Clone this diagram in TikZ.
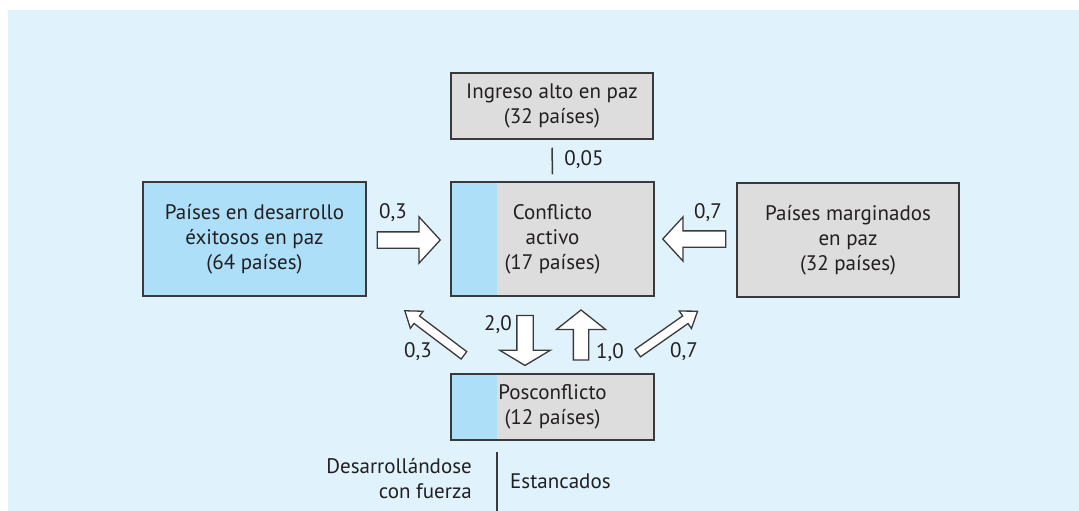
\documentclass[tikz,border=0pt]{standalone}
\usepackage{fontspec}
\setmainfont{PT Sans}
\usetikzlibrary{calc,shapes.arrows}

\definecolor{bgblue}{HTML}{E0F2FC}
\definecolor{boxblue}{HTML}{ADDFF8}
\definecolor{boxgray}{HTML}{DDDDDD}
\definecolor{edgegray}{HTML}{3A3A3A}
\definecolor{txt}{HTML}{231F20}

\tikzset{
  box/.style={draw=edgegray, line width=1.5pt, fill=boxgray, align=center,
    inner sep=0pt, text=txt, font=\fontsize{21}{25}\selectfont},
  bluebox/.style={box, fill=boxblue},
  halfbox/.style={box, path picture={
    \fill[boxblue] (path picture bounding box.north west)
      rectangle ([xshift=46pt]path picture bounding box.south west);}},
  barrow/.style={single arrow, draw=edgegray, fill=white, line width=1.3pt,
    inner sep=0pt, text depth=0pt, single arrow head indent=0pt},
  lbl/.style={text=txt, font=\fontsize{21}{25}\selectfont, inner sep=0pt}
}

\begin{document}
\begin{tikzpicture}[x=1pt,y=-1pt]
  \useasboundingbox (0,0) rectangle (1079,511);
  \fill[bgblue] (8,10) rectangle (1079,511);

  % boxes
  \node[box, minimum width=202pt, minimum height=66pt] (alto) at (552,106)
    {Ingreso alto en paz\\(32 países)};
  \node[halfbox, minimum width=203pt, minimum height=114pt] (conf) at (552.5,239)
    {Conflicto\\activo\\(17 países)};
  \node[bluebox, minimum width=223pt, minimum height=114pt] (exito) at (254.5,239)
    {Países en desarrollo\\éxitosos en paz\\(64 países)};
  \node[box, minimum width=222pt, minimum height=114pt] (margin) at (848,240)
    {Países marginados\\en paz\\(32 países)};
  \node[halfbox, minimum width=203pt, minimum height=66pt] (pos) at (552.5,407)
    {Posconflicto\\(12 países)};

  % flows
  \draw[edgegray, line width=1.5pt] ([yshift=-8pt]alto.south) -- ([yshift=7pt]conf.north);
  \node[lbl] (l005) at (584,160) {0,05};

  \node[barrow, minimum height=63pt, text height=15pt,
    single arrow head extend=15pt, single arrow tip angle=95] (a-ex)
    at (405,240) {};
  \node[lbl] (l-ex) at (393,213) {0,3};

  \node[barrow, minimum height=63pt, text height=15pt, rotate=180,
    single arrow head extend=14pt, single arrow tip angle=95] (a-ma)
    at (698,239) {};
  \node[lbl] (l-ma) at (708,213) {0,7};

  \node[barrow, minimum height=50pt, text height=15pt, rotate=-90,
    single arrow head extend=17pt, single arrow tip angle=118] (a-dn)
    at (525,338) {};
  \node[lbl] (l-dn) at (498,325) {2,0};

  \node[barrow, minimum height=50pt, text height=14pt, rotate=90,
    single arrow head extend=17pt, single arrow tip angle=103] (a-up)
    at (581,338) {};
  \node[lbl] (l-up) at (610,353) {1,0};

  \node[barrow, minimum height=74pt, text height=8pt, rotate=143,
    single arrow head extend=6pt, single arrow tip angle=71] (a-nw)
    at (437,335) {};
  \node[lbl] (l-nw) at (418,352) {0,3};

  \node[barrow, minimum height=73pt, text height=8pt, rotate=35,
    single arrow head extend=6pt, single arrow tip angle=71] (a-ne)
    at (665,334) {};
  \node[lbl] (l-ne) at (684,352) {0,7};

  % legend below
  \coordinate (split) at (497,452);
  \draw[edgegray, line width=1.5pt] (split) -- (497,511);
  \node[lbl, align=right, anchor=east] (fuerte) at (472,479)
    {Desarrollándose\\con fuerza};
  \node[lbl, anchor=west] (estanc) at (510,481) {Estancados};
\end{tikzpicture}
\end{document}
